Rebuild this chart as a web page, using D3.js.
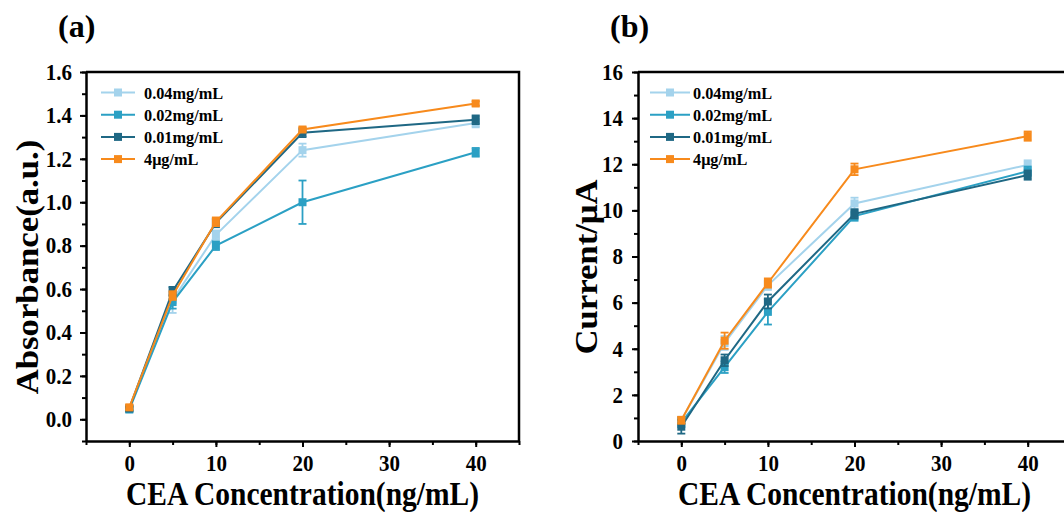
<!DOCTYPE html>
<html>
<head>
<meta charset="utf-8">
<script src="https://cdn.jsdelivr.net/npm/d3@7"></script>
<style>
  html, body { margin: 0; padding: 0; background: #fff; }
  svg { display: block; }
  svg text { font-family: "Liberation Serif", "Times New Roman", "DejaVu Serif", serif; font-weight: bold; }
</style>
</head>
<body>
<svg id="chart" width="1064" height="512"></svg>
<script>
// shared x values (CEA concentration, ng/mL)
const concentrations = [0, 5, 10, 20, 40];
const seriesNames = ["0.04mg/mL", "0.02mg/mL", "0.01mg/mL", "4\u03bcg/mL"];
const seriesColors = ["#a4d3ec", "#2ba0c4", "#1f6884", "#f78a1c"];

// panel (a) absorbance
const absorb004 = [0.05, 0.55, 0.85, 1.24, 1.365];
const absorb004Err = [0.01, 0.06, 0.02, 0.03, 0.02];
const absorb002 = [0.045, 0.54, 0.80, 1.00, 1.23];
const absorb002Err = [0.01, 0.03, 0.02, 0.10, 0.02];
const absorb001 = [0.05, 0.59, 0.905, 1.32, 1.38];
const absorb001Err = [0.01, 0.02, 0.02, 0.02, 0.02];
const absorb4ug = [0.055, 0.57, 0.91, 1.335, 1.455];
const absorb4ugErr = [0.01, 0.02, 0.02, 0.01, 0.01];

// panel (b) current
const current004 = [0.9, 4.25, 6.75, 10.3, 11.97];
const current004Err = [0.15, 0.3, 0.2, 0.25, 0.2];
const current002 = [0.8, 3.2, 5.6, 9.75, 11.7];
const current002Err = [0.2, 0.25, 0.55, 0.2, 0.2];
const current001 = [0.62, 3.5, 6.05, 9.85, 11.53];
const current001Err = [0.3, 0.25, 0.3, 0.2, 0.2];
const current4ug = [0.9, 4.35, 6.85, 11.78, 13.22];
const current4ugErr = [0.15, 0.35, 0.2, 0.25, 0.2];

const xTicks = [0, 10, 20, 30, 40];
const xMinorTicks = d3.range(-5, 46, 5);

const svg = d3.select("#chart");
const STRETCH = 1.12; // the original figure is a bit taller than wide

const drawPanel = (p) => {
  const g = svg.append("g");
  const x = d3.scaleLinear().domain([-5, 45]).range([p.left, p.left + 433]);
  const y = d3.scaleLinear().domain(p.yDomain).range([441, 72]);

  // frame top/right
  g.append("path")
    .attr("d", `M${p.left},72H${p.left + 433}V441`)
    .attr("fill", "none").attr("stroke", "#000").attr("stroke-width", 2.5);

  // minor ticks
  g.append("g").attr("transform", "translate(0,441)")
    .call(d3.axisBottom(x).tickValues(xMinorTicks).tickSize(4).tickFormat(""))
    .call(a => a.select(".domain").remove());
  g.append("g").attr("transform", `translate(${p.left},0)`)
    .call(d3.axisLeft(y).tickValues(p.yMinor).tickSize(4).tickFormat(""))
    .call(a => a.select(".domain").remove());

  const xAxis = g.append("g").attr("transform", "translate(0,441)")
    .call(d3.axisBottom(x).tickValues(xTicks).tickSize(6).tickPadding(7).tickSizeOuter(0));
  const yAxis = g.append("g").attr("transform", `translate(${p.left},0)`)
    .call(d3.axisLeft(y).tickValues(p.yTicks).tickSize(6).tickPadding(p.yPad).tickSizeOuter(0).tickFormat(p.yFormat));
  [xAxis, yAxis].forEach(a => {
    a.attr("font-family", null).attr("font-size", null);
    a.select(".domain").attr("stroke-width", 2.5);
    a.selectAll("text").attr("font-size", 21).attr("fill", "#000")
      .attr("transform", "scale(1,1.08)");
  });
  g.selectAll(".tick line").attr("stroke-width", 2);

  // series
  p.series.forEach((s, i) => {
    const pts = concentrations.map((c, j) => ({ c, v: s.values[j], e: s.err[j] }));
    const col = seriesColors[i];
    const sg = g.append("g");
    sg.append("path").datum(pts)
      .attr("fill", "none").attr("stroke", col).attr("stroke-width", 2)
      .attr("d", d3.line().x(d => x(d.c)).y(d => y(d.v)));
    const eb = sg.selectAll(".eb").data(pts).join("g").attr("stroke", col).attr("stroke-width", 1.8);
    eb.append("line").attr("x1", d => x(d.c)).attr("x2", d => x(d.c))
      .attr("y1", d => y(d.v - d.e)).attr("y2", d => y(d.v + d.e));
    eb.append("line").attr("x1", d => x(d.c) - 4).attr("x2", d => x(d.c) + 4)
      .attr("y1", d => y(d.v - d.e)).attr("y2", d => y(d.v - d.e));
    eb.append("line").attr("x1", d => x(d.c) - 4).attr("x2", d => x(d.c) + 4)
      .attr("y1", d => y(d.v + d.e)).attr("y2", d => y(d.v + d.e));
    sg.selectAll("rect").data(pts).join("rect")
      .attr("x", d => x(d.c) - 4).attr("y", d => y(d.v) - 4)
      .attr("width", 8).attr("height", 8).attr("fill", col);
  });

  // legend
  const lg = g.append("g");
  seriesNames.forEach((name, i) => {
    const ly = 92.5 + i * 22.2;
    lg.append("line").attr("x1", p.legendX).attr("x2", p.legendX + p.legendLen)
      .attr("y1", ly).attr("y2", ly).attr("stroke", seriesColors[i]).attr("stroke-width", 2);
    lg.append("rect").attr("x", p.legendX + p.legendLen / 2 - 4).attr("y", ly - 4)
      .attr("width", 8).attr("height", 8).attr("fill", seriesColors[i]);
    lg.append("text").attr("x", p.legendX + p.legendLen + p.legendGap).attr("y", ly + 6)
      .attr("font-size", 16.3).text(name);
  });

  // titles
  g.append("text").attr("transform", `translate(${p.left + 216.5},505) scale(1,${STRETCH})`)
    .attr("text-anchor", "middle").attr("font-size", 29.5).text("CEA Concentration(ng/mL)");
  g.append("text").attr("transform", `translate(${p.yTitleX},267) rotate(-90) scale(${STRETCH},1)`)
    .attr("text-anchor", "middle").attr("font-size", 31).text(p.yTitle);
  g.append("text").attr("x", p.left - 28).attr("y", 37)
    .attr("font-size", 32).text(p.label);
};

drawPanel({
  left: 86, label: "(a)", yTitle: "Absorbance(a.u.)", yTitleX: 38, yPad: 8,
  yDomain: [-0.1, 1.6], yTicks: d3.range(0, 1.61, 0.2), yMinor: d3.range(-0.1, 1.61, 0.1),
  yFormat: d3.format(".1f"),
  legendX: 101, legendLen: 34, legendGap: 9,
  series: [
    { values: absorb004, err: absorb004Err },
    { values: absorb002, err: absorb002Err },
    { values: absorb001, err: absorb001Err },
    { values: absorb4ug, err: absorb4ugErr }
  ]
});

drawPanel({
  left: 638, label: "(b)", yTitle: "Current/\u03bcA", yTitleX: 597, yPad: 9,
  yDomain: [0, 16], yTicks: d3.range(0, 17, 2), yMinor: d3.range(0, 17, 1),
  yFormat: d3.format("d"),
  legendX: 650, legendLen: 40, legendGap: 3,
  series: [
    { values: current004, err: current004Err },
    { values: current002, err: current002Err },
    { values: current001, err: current001Err },
    { values: current4ug, err: current4ugErr }
  ]
});
</script>
</body>
</html>
